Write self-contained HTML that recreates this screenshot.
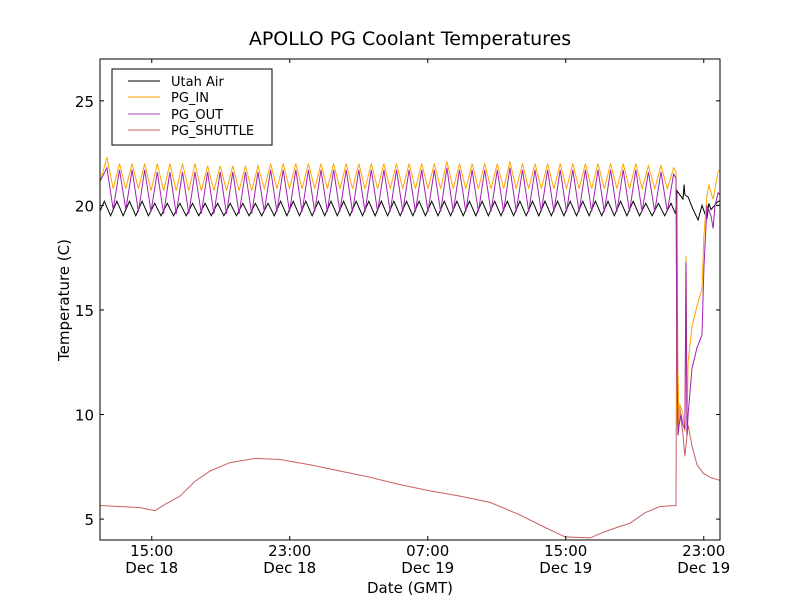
<!DOCTYPE html>
<html><head><meta charset="utf-8"><style>
body{margin:0;background:#fff;font-family:"Liberation Sans","DejaVu Sans",sans-serif}
svg text{font-family:"DejaVu Sans","Liberation Sans",sans-serif}
</style></head><body>
<svg id="c" width="800" height="600" viewBox="0 0 800 600">
<defs><clipPath id="clip"><rect x="100" y="59" width="620" height="481"/></clipPath></defs>
<rect width="800" height="600" fill="#fff"/>
<text x="410" y="45" font-size="19" text-anchor="middle">APOLLO PG Coolant Temperatures</text>
<g id="plot" clip-path="url(#clip)"></g>
<rect x="100" y="59" width="620" height="481" fill="none" stroke="#000" stroke-width="1"/>
<g id="axes"></g>
<text x="410" y="593" font-size="15" text-anchor="middle">Date (GMT)</text>
<text transform="translate(69,300) rotate(-90)" font-size="15" text-anchor="middle">Temperature (C)</text>
<g>
<rect x="112" y="69" width="160" height="76" fill="#fff" stroke="#000"/>
<line x1="128" x2="160" y1="81" y2="81" stroke="#000"/>
<text x="171" y="86" font-size="13">Utah Air</text>
<line x1="128" x2="160" y1="97" y2="97" stroke="#ffa500"/>
<text x="171" y="102" font-size="13">PG_IN</text>
<line x1="128" x2="160" y1="114" y2="114" stroke="#b040c0"/>
<text x="171" y="119" font-size="13">PG_OUT</text>
<line x1="128" x2="160" y1="130" y2="130" stroke="#c86060"/>
<text x="171" y="135" font-size="13">PG_SHUTTLE</text>
</g>
</svg>
<script>
// hours since Dec 18 12:00
const peakTimes=[0.40,1.13,1.86,2.59,3.32,4.05,4.78,5.51,6.24,6.97,7.70,8.43,9.16,9.89,10.62,11.35,12.08,12.81,13.54,14.27,15.00,15.73,16.46,17.19,17.92,18.65,19.38,20.11,20.84,21.57,22.30,23.03,23.76,24.49,25.22,25.95,26.68,27.41,28.14,28.87,29.60,30.33,31.06,31.79,32.52,33.25];
const inPeaks=[22.3,22.0,22.0,22.0,22.0,22.0,22.0,22.0,21.9,21.9,21.9,21.9,21.9,22.0,22.0,22.0,22.0,22.0,22.0,22.0,22.0,22.0,22.0,22.0,22.0,22.0,22.0,22.1,22.0,22.0,22.0,22.0,22.1,22.0,22.0,22.0,22.0,22.0,22.0,22.0,22.0,22.0,22.0,21.9,21.9,21.8];
const inTroughs=[21.2,20.8,20.8,20.8,20.7,20.7,20.7,20.7,20.7,20.7,20.7,20.7,20.7,20.8,20.8,20.8,20.8,20.8,20.8,20.8,20.8,20.8,20.8,20.8,20.8,20.8,20.8,20.8,20.8,20.8,20.8,20.8,20.8,20.8,20.8,20.8,20.8,20.8,20.8,20.8,20.8,20.8,20.8,20.8,20.8,20.8];
const outPeaks=[21.8,21.7,21.7,21.7,21.6,21.6,21.6,21.6,21.6,21.6,21.6,21.6,21.6,21.7,21.7,21.7,21.7,21.7,21.7,21.7,21.7,21.7,21.7,21.7,21.7,21.7,21.7,21.8,21.7,21.7,21.7,21.7,21.8,21.7,21.7,21.7,21.7,21.7,21.7,21.7,21.7,21.7,21.7,21.6,21.6,21.5];
const outTroughs=[21.2,19.8,19.8,19.7,19.7,19.6,19.6,19.6,19.6,19.6,19.6,19.6,19.6,19.7,19.7,19.7,19.7,19.7,19.7,19.7,19.7,19.7,19.7,19.7,19.7,19.7,19.7,19.7,19.7,19.7,19.7,19.7,19.7,19.7,19.7,19.7,19.7,19.7,19.7,19.7,19.7,19.7,19.7,19.7,19.7,19.7];
const airPeaks=[20.2,20.2,20.2,20.2,20.1,20.1,20.1,20.1,20.1,20.1,20.1,20.1,20.1,20.1,20.2,20.2,20.2,20.2,20.2,20.2,20.2,20.2,20.2,20.2,20.2,20.2,20.2,20.2,20.2,20.2,20.2,20.2,20.2,20.2,20.2,20.2,20.2,20.2,20.2,20.2,20.2,20.2,20.2,20.1,20.1,20.1];
const airTroughs=[19.5,19.5,19.5,19.5,19.5,19.5,19.5,19.5,19.5,19.5,19.5,19.5,19.5,19.5,19.5,19.5,19.5,19.5,19.5,19.5,19.5,19.5,19.5,19.5,19.5,19.5,19.5,19.5,19.5,19.5,19.5,19.5,19.5,19.5,19.5,19.5,19.5,19.5,19.5,19.5,19.5,19.5,19.5,19.5,19.5,19.5];
const inTailT=[33.39,33.45,33.51,33.57,33.62,33.80,33.91,33.97,34.03,34.09,34.32,34.61,34.90,35.01,35.19,35.30,35.42,35.54,35.65,35.83,35.95];
const inTailV=[21.6,9.5,12.0,9.5,10.5,10.0,9.2,17.6,9.5,12.5,14.2,15.2,16.0,18.5,20.5,21.0,20.6,20.3,20.8,21.6,21.7];
const outTailT=[33.39,33.45,33.51,33.57,33.68,33.80,33.91,33.97,34.03,34.09,34.32,34.61,34.90,35.01,35.19,35.42,35.54,35.65,35.83,35.95];
const outTailV=[21.3,12.0,9.0,9.5,10.0,9.5,9.3,17.3,9.0,10.0,12.2,13.2,13.8,17.0,20.0,19.5,18.9,20.0,20.6,20.5];
const airTailT=[33.36,33.45,33.62,33.80,33.86,33.91,34.09,34.38,34.67,34.90,35.07,35.19,35.30,35.42,35.83,35.95];
const airTailV=[19.6,20.7,20.5,20.3,21.0,20.5,20.4,19.8,19.3,20.0,19.6,19.4,20.1,19.8,20.2,20.2];
const shT=[0,2.32,3.19,3.77,4.64,5.51,6.38,7.54,8.99,10.43,12.17,13.91,15.65,17.39,19.13,20.87,22.61,24.35,25.8,26.96,28.41,29.28,30.14,30.72,31.59,32.46,33.39,33.45,33.51,33.62,33.80,33.91,34.09,34.32,34.61,34.96,35.36,35.95];
const shV=[5.65,5.55,5.4,5.7,6.1,6.8,7.3,7.7,7.9,7.85,7.6,7.3,7.0,6.65,6.35,6.1,5.8,5.2,4.6,4.15,4.1,4.4,4.65,4.8,5.3,5.6,5.65,20.5,9.2,10.3,9.0,8.0,9.5,8.5,7.6,7.2,7.0,6.85];
const yTicks=[5,10,15,20,25];
const xTickT=[3,11,19,27,35];
const xTickTime=["15:00","23:00","07:00","15:00","23:00"];
const xTickDate=["Dec 18","Dec 18","Dec 19","Dec 19","Dec 19"];

const X=t=>100+t*17.25;
const Y=v=>540-(v-4)*(481/23);
const NS="http://www.w3.org/2000/svg";
const plot=document.getElementById('plot'),axes=document.getElementById('axes');
function osc(peaks,troughs,shift,tailT,tailV){
  const p=[];
  for(let i=0;i<peakTimes.length;i++){
    p.push([peakTimes[i]-0.365+shift,troughs[i]]);
    p.push([peakTimes[i]+shift,peaks[i]]);
  }
  for(let i=0;i<tailT.length;i++)p.push([tailT[i],tailV[i]]);
  return p;
}
function line(pts,color,name){
  const e=document.createElementNS(NS,'polyline');
  e.setAttribute('points',pts.map(p=>X(p[0]).toFixed(1)+','+Y(p[1]).toFixed(1)).join(' '));
  e.setAttribute('fill','none');e.setAttribute('stroke',color);e.setAttribute('stroke-width','1');
  
  
  plot.appendChild(e);
}
line(shT.map((t,i)=>[t,shV[i]]),'#c86060','pg-shuttle-line');
line(osc(airPeaks,airTroughs,-0.15,airTailT,airTailV),'#000','utah-air-line');
line(osc(inPeaks,inTroughs,0,inTailT,inTailV),'#ffa500','pg-in-line');
line(osc(outPeaks,outTroughs,0,outTailT,outTailV),'#a020b0','pg-out-line');
function seg(x1,y1,x2,y2){const l=document.createElementNS(NS,'line');l.setAttribute('x1',x1);l.setAttribute('y1',y1);l.setAttribute('x2',x2);l.setAttribute('y2',y2);l.setAttribute('stroke','#000');axes.appendChild(l);return l;}
function txt(x,y,s,a,n){const t=document.createElementNS(NS,'text');t.setAttribute('x',x);t.setAttribute('y',y);t.setAttribute('font-size','15');t.setAttribute('text-anchor',a);t.textContent=s;


axes.appendChild(t);}
yTicks.forEach(v=>{const y=Y(v);seg(100,y,104,y);seg(716,y,720,y);txt(94,y+6,String(v),'end','y-tick-label');});
xTickT.forEach((t,i)=>{const x=X(t);seg(x,540,x,536);seg(x,59,x,63);txt(x,556,xTickTime[i],'middle','x-tick-time');txt(x,573,xTickDate[i],'middle','x-tick-date');});
</script>
</body></html>
